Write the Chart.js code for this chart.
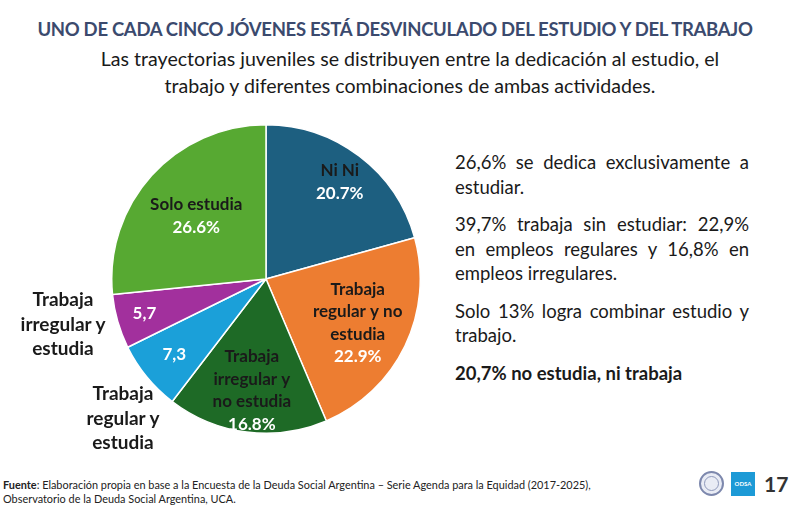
<!DOCTYPE html>
<html>
<head>
<meta charset="utf-8">
<script src="https://cdn.jsdelivr.net/npm/chart.js@4.4.1/dist/chart.umd.min.js"></script>
<style>
  html, body { margin: 0; padding: 0; background: #fff; }
  body { width: 790px; height: 511px; position: relative; overflow: hidden; font-family: Lato, "Open Sans", sans-serif; color: #1a1a1a; }
  .abs { position: absolute; }
  #title { left: 0; width: 790px; top: 18px; text-align: center; font-weight: bold; font-size: 18.5px; color: #3b4a6e; letter-spacing: -0.3px; }
  #subtitle { left: 60px; width: 700px; top: 45px; text-align: center; font-size: 19.6px; line-height: 27px; }
  #pieBox { left: 111px; top: 124px; width: 310px; height: 310px; }
  .side { font-weight: bold; font-size: 19px; line-height: 24.5px; text-align: center; }
  #notes { left: 455px; top: 150px; width: 294px; font-size: 18.5px; line-height: 24.5px; text-align: justify; }
  #notes p { margin: 0 0 13px 0; }
  #foot { left: 3px; top: 478px; font-size: 10.9px; line-height: 14px; color: #222; }
  #seal { left: 699px; top: 471px; width: 25px; height: 25px; border-radius: 50%; border: 2px solid #7d88ad; background: #e9ecf5; box-sizing: border-box; }
  #seal div { position: absolute; left: 3px; top: 3px; right: 3px; bottom: 3px; border-radius: 50%; border: 1px solid #8f99bb; }
  #odsa { left: 731px; top: 472px; width: 24px; height: 24px; background: #1d9ad6; color: #fff; font-size: 6px; font-weight: bold; text-align: center; line-height: 24px; }
  #page { left: 764px; top: 471px; font-size: 21px; font-weight: bold; color: #333; }
</style>
</head>
<body>
<div id="title" class="abs">UNO DE CADA CINCO JÓVENES ESTÁ DESVINCULADO DEL ESTUDIO Y DEL TRABAJO</div>
<div id="subtitle" class="abs">Las trayectorias juveniles se distribuyen entre la dedicación al estudio, el<br>trabajo y diferentes combinaciones de ambas actividades.</div>

<div id="pieBox" class="abs"><canvas id="pie"></canvas></div>

<div class="abs side" style="left:3px; top:287px; width:120px;">Trabaja<br>irregular y<br>estudia</div>
<div class="abs side" style="left:63px; top:381px; width:120px;">Trabaja<br>regular y<br>estudia</div>

<div id="notes" class="abs">
  <p>26,6% se dedica exclusivamente a estudiar.</p>
  <p>39,7% trabaja sin estudiar: 22,9% en empleos regulares y 16,8% en empleos irregulares.</p>
  <p>Solo 13% logra combinar estudio y trabajo.</p>
  <p><b>20,7% no estudia, ni trabaja</b></p>
</div>

<div id="foot" class="abs"><b>Fuente</b>: Elaboración propia en base a la Encuesta de la Deuda Social Argentina – Serie Agenda para la Equidad (2017-2025),<br>Observatorio de la Deuda Social Argentina, UCA.</div>
<div id="seal" class="abs"><div></div></div>
<div id="odsa" class="abs">ODSA</div>
<div id="page" class="abs">17</div>

<script>
const categories = ['Ni Ni', 'Trabaja regular y no estudia', 'Trabaja irregular y no estudia',
                    'Trabaja regular y estudia', 'Trabaja irregular y estudia', 'Solo estudia'];
const values = [20.7, 22.9, 16.8, 7.3, 5.7, 26.6];
const insideNames = [['Ni Ni'], ['Trabaja', 'regular y no', 'estudia'], ['Trabaja', 'irregular y', 'no estudia'], [], [], ['Solo estudia']];
const colors = ['#1d5f80', '#ed7d31', '#1e6a26', '#1ba0d9', '#a2309d', '#57a932'];

// how far out from the center each label sits (fraction of radius)
const labelRadius = [0.79, 0.66, 0.73, 0.77, 0.82, 0.61];

const valueText = (v, i) => {
    if (insideNames[i].length) return v.toFixed(1) + '%';
    return v.toFixed(1).replace('.', ',');
};

const sliceLabels = {
    id: 'sliceLabels',
    afterDatasetsDraw(chart) {
        const ctx = chart.ctx;
        const meta = chart.getDatasetMeta(0);
        ctx.save();
        ctx.textAlign = 'center';
        ctx.textBaseline = 'middle';
        ctx.font = 'bold 17px Lato, sans-serif';
        meta.data.forEach((arc, i) => {
            const mid = (arc.startAngle + arc.endAngle) / 2;
            const r = arc.outerRadius * labelRadius[i];
            const x = arc.x + Math.cos(mid) * r;
            const y = arc.y + Math.sin(mid) * r;
            const lines = insideNames[i];
            const lh = 22.5;
            const total = lines.length + 1;
            let y0 = y - (total - 1) * lh / 2;
            lines.forEach((t, k) => {
                ctx.fillStyle = '#1a1a1a';
                ctx.fillText(t, x, y0 + k * lh);
            });
            ctx.fillStyle = '#ffffff';
            ctx.fillText(valueText(values[i], i), x, y0 + lines.length * lh);
        });
        ctx.restore();
    }
};

new Chart(document.getElementById('pie').getContext('2d'), {
    type: 'pie',
    data: {
        labels: categories,
        datasets: [{
            data: values,
            backgroundColor: colors,
            borderColor: '#ffffff',
            borderWidth: 1.5,
            hoverOffset: 0
        }]
    },
    options: {
        responsive: true,
        maintainAspectRatio: false,
        animation: false,
        events: [],
        plugins: {
            legend: { display: false },
            tooltip: { enabled: false }
        }
    },
    plugins: [sliceLabels]
});
</script>
</body>
</html>
